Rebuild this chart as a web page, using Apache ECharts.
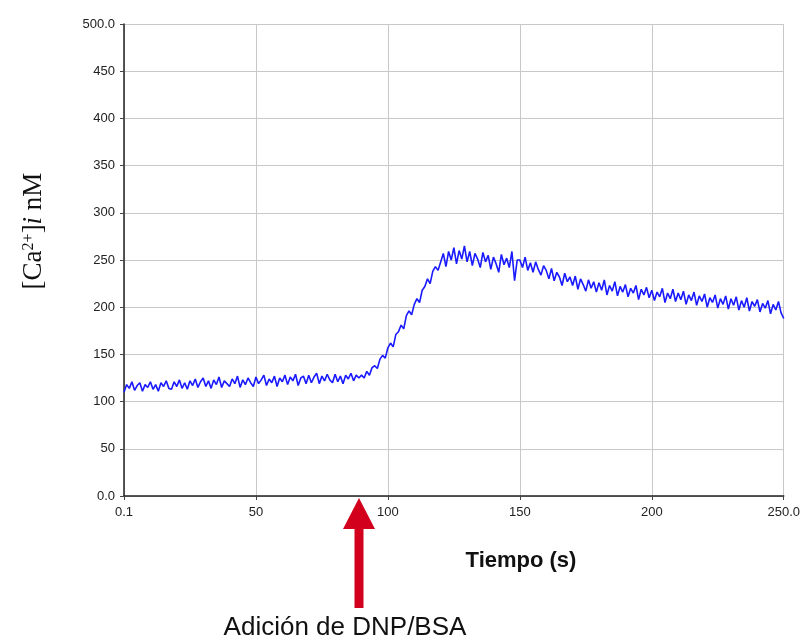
<!DOCTYPE html>
<html>
<head>
<meta charset="utf-8">
<script src="https://cdn.jsdelivr.net/npm/echarts@6/dist/echarts.min.js"></script>
<style>
html,body{margin:0;padding:0;background:#fff;}
#c{width:803px;height:644px;}
</style>
</head>
<body>
<div id="c"></div>
<script>
// Time axis ticks / labels
const xTicks = [0, 50, 100, 150, 200, 250];
const yTicks = [0, 50, 100, 150, 200, 250, 300, 350, 400, 450, 500];

// [Ca2+]i (nM) sampled every 1 s; each segment begins at its start time
const baselineStart = 0; // t = 0..89 s
const baseline = [
  110,118,114,121,112,117,120,111,118,115,
  121,113,118,111,120,116,122,114,113,121,
  116,123,114,120,113,122,117,124,115,121,
  125,116,122,114,123,118,126,115,122,119,
  116,124,119,127,115,123,118,125,120,116,
  126,119,123,128,117,124,120,127,116,125,
  121,128,118,126,122,129,117,125,127,119,
  128,120,126,130,119,127,122,129,123,120,
  129,121,127,119,128,124,130,122,128,125
];
const riseStart = 90; // t = 90..119 s
const rise = [
  128,125,132,128,136,138,135,145,149,146,
  157,162,158,171,174,181,177,191,196,192,
  203,209,205,218,222,230,225,238,243,239
];
const peakStart = 120; // t = 120..149 s
const peak = [
  248,257,243,259,250,263,246,260,251,265,
  248,259,244,257,251,242,258,248,255,240,
  253,246,237,256,245,252,242,259,228,250
];
const decayStart = 150; // t = 150..250 s
const decay = [
  250,242,253,239,247,237,248,240,234,244,
  239,230,241,228,237,232,223,236,227,232,
  223,233,219,230,224,217,229,220,227,216,
  226,218,229,213,223,217,227,212,222,216,
  224,211,220,215,223,208,219,213,221,210,
  218,207,216,211,220,205,215,209,219,206,
  215,208,217,203,213,207,216,202,212,206,
  214,200,210,205,213,199,209,203,212,198,
  209,202,211,197,207,200,210,196,206,201,
  208,195,204,199,207,193,203,197,206,194,
  188
];

const segments = [
  [baselineStart, baseline],
  [riseStart, rise],
  [peakStart, peak],
  [decayStart, decay]
];
const seriesData = [];
segments.forEach(([start, vals]) => {
  vals.forEach((v, i) => seriesData.push([start + i, v]));
});

const chart = echarts.init(document.getElementById('c'), null, {renderer: 'canvas'});
chart.setOption({
  animation: false,
  backgroundColor: '#ffffff',
  grid: {left: 124, right: 16, top: 24, bottom: 148},
  xAxis: {
    type: 'value',
    min: xTicks[0],
    max: xTicks[xTicks.length - 1],
    interval: 50,
    axisLine: {show: true, onZero: false, lineStyle: {color: '#222', width: 1.5}},
    axisTick: {show: true, length: 4, lineStyle: {color: '#444'}},
    axisLabel: {
      margin: 10,
      color: '#222',
      fontFamily: 'Liberation Sans, Arial, sans-serif',
      fontSize: 13,
      formatter: v => v === 0 ? '0.1' : (v === 250 ? '250.0' : String(v))
    },
    splitLine: {show: true, lineStyle: {color: '#c8c8c8', width: 1}}
  },
  yAxis: {
    type: 'value',
    min: yTicks[0],
    max: yTicks[yTicks.length - 1],
    interval: 50,
    axisLine: {show: true, onZero: false, lineStyle: {color: '#222', width: 1.5}},
    axisTick: {show: true, length: 4, lineStyle: {color: '#444'}},
    axisLabel: {
      margin: 9,
      color: '#222',
      fontFamily: 'Liberation Sans, Arial, sans-serif',
      fontSize: 13,
      formatter: v => v === 0 ? '0.0' : (v === 500 ? '500.0' : String(v))
    },
    splitLine: {show: true, lineStyle: {color: '#c8c8c8', width: 1}}
  },
  series: [{
    type: 'line',
    data: seriesData,
    showSymbol: false,
    symbol: 'none',
    lineStyle: {color: '#1a1aff', width: 1.6},
    z: 5
  }],
  graphic: [
    {
      type: 'text',
      x: 34, y: 231,
      rotation: Math.PI / 2,
      style: {
        text: '{a|[Ca}{s|2+}{a|]}{i|i}{a| nM}',
        align: 'center',
        verticalAlign: 'middle',
        fill: '#111',
        rich: {
          a: {fontFamily: 'Liberation Serif, Times New Roman, serif', fontSize: 27, fill: '#111'},
          s: {fontFamily: 'Liberation Serif, Times New Roman, serif', fontSize: 16, fill: '#111', verticalAlign: 'top', padding: [0, 0, 11, 0]},
          i: {fontFamily: 'Liberation Serif, Times New Roman, serif', fontSize: 27, fontStyle: 'italic', fill: '#111'}
        }
      }
    },
    {
      type: 'text',
      x: 521, y: 561,
      style: {
        text: 'Tiempo (s)',
        align: 'center',
        verticalAlign: 'middle',
        fontFamily: 'Liberation Sans, Arial, sans-serif',
        fontWeight: 'bold',
        fontSize: 22,
        fill: '#111'
      }
    },
    {
      type: 'polygon',
      shape: {points: [[359, 498], [375, 529], [363.5, 529], [363.5, 608], [354.5, 608], [354.5, 529], [343, 529]]},
      style: {fill: '#d2001c'},
      z: 10
    },
    {
      type: 'text',
      x: 345, y: 628,
      style: {
        text: 'Adición de DNP/BSA',
        align: 'center',
        verticalAlign: 'middle',
        fontFamily: 'Liberation Sans, Arial, sans-serif',
        fontSize: 26,
        fill: '#111'
      }
    }
  ]
});
</script>
</body>
</html>
